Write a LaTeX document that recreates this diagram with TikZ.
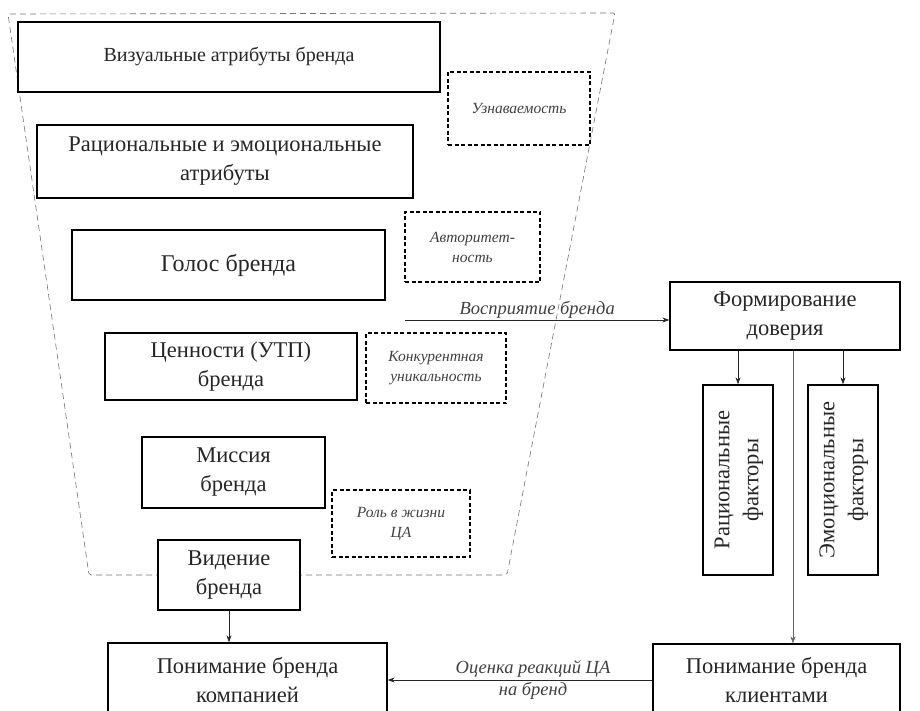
\documentclass[tikz,border=0pt]{standalone}
\usepackage{fontspec}
\setmainfont{Liberation Serif}
\usetikzlibrary{arrows.meta}
\tikzset{
  box/.style={draw=black, line width=1.3pt, rectangle, align=center, inner sep=2pt,
    font=\fontsize{22.5}{29}\selectfont, text=black!85},
  dbox/.style={draw=black, line width=1.1pt, dash pattern=on 4pt off 2.5pt, rectangle,
    align=center, font=\fontsize{15.5}{20}\selectfont\itshape, text=black!75},
  trap/.style={draw=black!55, line width=0.6pt, dash pattern=on 6pt off 4pt},
  arr/.style={draw=black!85, line width=0.7pt, -{Stealth[length=7pt,width=5pt]}},
  lbl/.style={font=\fontsize{18.5}{23}\selectfont\itshape, text=black!75, align=center}
}
\begin{document}
\begin{tikzpicture}[x=1pt,y=-1pt]
\useasboundingbox (0,0) rectangle (920,711);
% dashed trapezoid
\draw[trap, rounded corners=2pt] (8,14) -- (615,13) -- (507,575) -- (89,575) -- cycle;
% left column
\node[box, fill=white, font=\fontsize{20}{28}\selectfont, minimum width=422pt, minimum height=70pt] (v1) at (229,57) {Визуальные атрибуты бренда};
\node[box, minimum width=376pt, minimum height=73pt] (v2) at (225,161.5) {Рациональные и эмоциональные\\атрибуты};
\node[box, font=\fontsize{24}{30}\selectfont, minimum width=313pt, minimum height=70pt] (v3) at (228.5,265) {Голос бренда};
\node[box, minimum width=252pt, minimum height=67pt] (v4) at (231,366.5) {Ценности (УТП)\\бренда};
\node[box, minimum width=183pt, minimum height=71pt] (v5) at (233.5,472.5) {Миссия\\бренда};
\node[box, fill=white, minimum width=142pt, minimum height=70pt] (v6) at (229,575) {Видение\\бренда};
\node[box, minimum width=279pt, minimum height=74pt] (kc) at (247.5,680) {Понимание бренда\\компанией};
% dashed boxes
\node[dbox, minimum width=142pt, minimum height=73pt] (d1) at (519,108.5) {Узнаваемость};
\node[dbox, minimum width=135pt, minimum height=70pt] (d2) at (472.5,247) {Авторитет-\\ность};
\node[dbox, minimum width=140pt, minimum height=70pt] (d3) at (436,368) {Конкурентная\\уникальность};
\node[dbox, minimum width=138pt, minimum height=67pt] (d4) at (401,523.5) {Роль в жизни\\ЦА};
% right side
\node[box, minimum width=230pt, minimum height=68pt] (f) at (785,316) {Формирование\\доверия};
\node[box, minimum width=70pt, minimum height=190pt] (r) at (738,480)
  {\rotatebox{90}{\begin{tabular}{@{}c@{}}Рациональные\\факторы\end{tabular}}};
\node[box, minimum width=70pt, minimum height=190pt] (e) at (843,480)
  {\rotatebox{90}{\begin{tabular}{@{}c@{}}Эмоциональные\\факторы\end{tabular}}};
\node[box, minimum width=247pt, minimum height=72pt] (kl) at (776.5,680) {Понимание бренда\\клиентами};
% connectors
\coordinate (vs) at (405,320);
\draw[arr] (vs) -- (vs -| f.west) node[lbl, midway, above=-2pt, xshift=0pt] {Восприятие бренда};
\draw[arr] (r.north |- f.south) -- (r.north);
\draw[arr] (e.north |- f.south) -- (e.north);
\coordinate (mid) at (793,0);
\draw[arr, line width=0.5pt, draw=black!60] (f.south -| mid) -- (kl.north -| mid);
\draw[arr] (v6.south) -- (v6.south |- kc.north);
\draw[arr] (kl.west) -- (kc.east) node[lbl, midway, above=-1pt, xshift=13pt] {Оценка реакций ЦА}
  node[lbl, midway, below=-1pt, xshift=13pt] {на бренд};
\end{tikzpicture}
\end{document}
